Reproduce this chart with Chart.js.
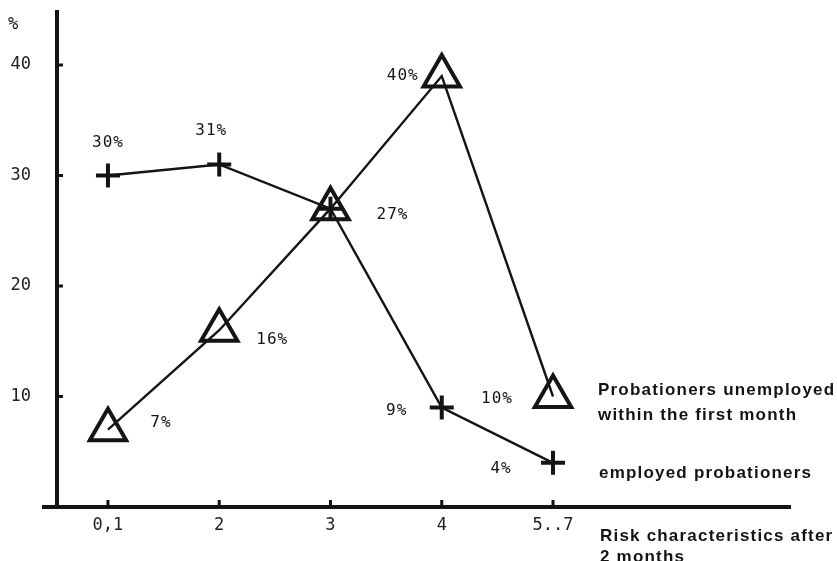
<!DOCTYPE html>
<html>
<head>
<meta charset="utf-8">
<script src="https://cdn.jsdelivr.net/npm/chart.js@4"></script>
<style>
  html, body { margin: 0; padding: 0; background: #fff; }
  canvas { display: block; }
</style>
</head>
<body>
<canvas id="grafico" width="837" height="561"></canvas>
<script>
// Data
const categories = ["0,1", "2", "3", "4", "5..7"];
const unemployed = [7, 16, 27, 39, 10];
const unemployedText = ["7%", "16%", "27%", "40%", "10%"];
const employed = [30, 31, 27, 9, 4];
const employedText = ["30%", "31%", "", "9%", "4%"];
const yTicks = [10, 20, 30, 40];

// where each value label sits relative to its point
const unemployedOffsets = [[53, -7], [53, 10], [62, 6], [-39, 0], [-56, 2]];
const employedOffsets = [[0, -33], [-8, -34], [0, 0], [-45, 3], [-52, 6]];

const INK = "#141414";
const MONO = "'DejaVu Sans Mono', monospace";

// Extras: inward ticks, % sign, value labels, side texts
const extras = {
  id: "extras",
  afterDraw(chart) {
    const { ctx, chartArea, scales } = chart;
    ctx.save();
    ctx.strokeStyle = INK;
    ctx.fillStyle = INK;

    // x axis runs a bit past the y axis
    ctx.lineWidth = 4;
    ctx.beginPath();
    ctx.moveTo(42, chartArea.bottom);
    ctx.lineTo(chartArea.left, chartArea.bottom);
    ctx.stroke();

    ctx.lineWidth = 3;
    ctx.beginPath();
    yTicks.forEach(v => {
      const y = scales.y.getPixelForValue(v);
      ctx.moveTo(chartArea.left, y);
      ctx.lineTo(chartArea.left + 6, y);
    });
    categories.forEach((c, i) => {
      const x = scales.x.getPixelForValue(i);
      ctx.moveTo(x, chartArea.bottom);
      ctx.lineTo(x, chartArea.bottom - 7);
    });
    ctx.stroke();

    ctx.font = "17px " + MONO;
    ctx.textAlign = "center";
    ctx.textBaseline = "middle";
    ctx.fillText("%", 13, 25);

    // value labels
    ctx.font = "16px " + MONO;
    ctx.letterSpacing = "1px";
    const drawLabels = (idx, texts, offsets) => {
      chart.getDatasetMeta(idx).data.forEach((pt, i) => {
        if (!texts[i]) return;
        ctx.fillText(texts[i], pt.x + offsets[i][0], pt.y + offsets[i][1]);
      });
    };
    drawLabels(0, unemployedText, unemployedOffsets);
    drawLabels(1, employedText, employedOffsets);

    // side texts
    ctx.letterSpacing = "1.2px";
    ctx.font = "bold 17px 'Liberation Sans', Arial, sans-serif";
    ctx.textAlign = "left";
    ctx.fillText("Probationers unemployed", 598, 390);
    ctx.fillText("within the first month", 598, 415);
    ctx.fillText("employed probationers", 599, 473);
    ctx.fillText("Risk characteristics after", 600, 536);
    ctx.fillText("2 months", 600, 557);
    ctx.restore();
  }
};

new Chart(document.getElementById("grafico"), {
  type: "line",
  data: {
    datasets: [
      {
        label: "Probationers unemployed within the first month",
        data: unemployed.map((v, i) => ({ x: i, y: v })),
        borderColor: INK,
        borderWidth: 2.4,
        pointStyle: "triangle",
        pointRadius: 21,
        pointBorderWidth: 4,
        pointBorderColor: INK,
        pointBackgroundColor: "rgba(0,0,0,0)",
        clip: false
      },
      {
        label: "employed probationers",
        data: employed.map((v, i) => ({ x: i, y: v })),
        borderColor: INK,
        borderWidth: 2.4,
        pointStyle: "cross",
        pointRadius: 12,
        pointBorderWidth: 4,
        pointBorderColor: INK,
        clip: false
      }
    ]
  },
  options: {
    responsive: false,
    animation: false,
    layout: { autoPadding: false, padding: { left: 0, top: 12, right: 47, bottom: 0 } },
    plugins: {
      legend: { display: false },
      tooltip: { enabled: false }
    },
    scales: {
      x: {
        type: "linear",
        min: -0.458,
        max: 6.13,
        grid: { display: false, drawTicks: false },
        border: { color: INK, width: 4 },
        afterBuildTicks: scale => {
          scale.ticks = categories.map((c, i) => ({ value: i }));
        },
        afterFit: scale => {
          scale.height = 54;
          scale.paddingLeft = 0;
          scale.paddingRight = 0;
        },
        ticks: {
          padding: 8,
          color: "#222",
          font: { family: MONO, size: 17 },
          callback: v => categories[Math.round(v)]
        }
      },
      y: {
        min: 0,
        max: 44.8,
        grid: { display: false, drawTicks: false },
        border: { color: INK, width: 4 },
        afterBuildTicks: scale => {
          scale.ticks = yTicks.map(v => ({ value: v }));
        },
        afterFit: scale => {
          scale.width = 57;
          scale.paddingTop = 0;
          scale.paddingBottom = 0;
        },
        ticks: {
          padding: 26,
          color: "#222",
          font: { family: MONO, size: 17 }
        }
      }
    }
  },
  plugins: [extras]
});
</script>
</body>
</html>
